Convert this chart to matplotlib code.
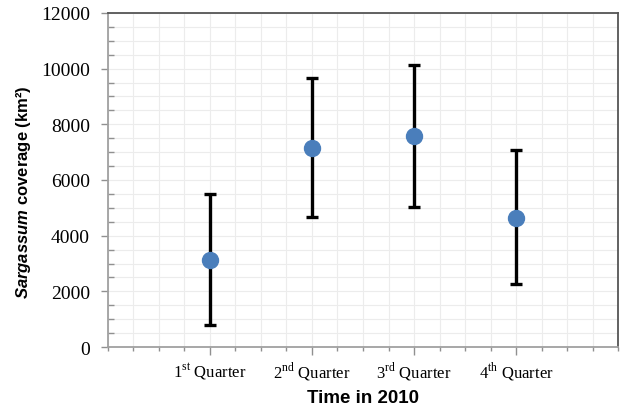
import numpy as np
import matplotlib
matplotlib.use("Agg")
import matplotlib.pyplot as plt
from matplotlib.ticker import MultipleLocator

plt.rcParams['mathtext.fontset'] = 'custom'
plt.rcParams['mathtext.rm'] = 'Liberation Serif'
plt.rcParams['mathtext.bfit'] = 'Liberation Sans:italic:bold'
plt.rcParams['mathtext.bf'] = 'Liberation Sans:bold'

# data
quarters = [r"1$^{\mathrm{st}}$ Quarter", r"2$^{\mathrm{nd}}$ Quarter",
            r"3$^{\mathrm{rd}}$ Quarter", r"4$^{\mathrm{th}}$ Quarter"]
coverage = [3120, 7160, 7570, 4620]
cov_low = [800, 4660, 5040, 2260]
cov_high = [5510, 9670, 10130, 7080]

x = np.arange(1, len(quarters) + 1)
mean = np.array(coverage)
yerr = [mean - np.array(cov_low), np.array(cov_high) - mean]

fig = plt.figure(figsize=(6.22, 4.10), dpi=100)
ax = fig.add_axes([0.1736, 0.1512, 0.82, 0.8147])

ax.errorbar(x, mean, yerr=yerr, fmt='o', color='#4a7ebb', markersize=11.5,
            ecolor='black', elinewidth=2.4, capsize=4.5, capthick=2.4, zorder=3)

ax.set_xlim(0, 5)
ax.set_ylim(0, 12000)
ax.set_xticks(x)
ax.set_xticklabels(quarters, family='Liberation Serif', fontsize=12)
ax.xaxis.set_minor_locator(MultipleLocator(0.25))
ax.yaxis.set_major_locator(MultipleLocator(2000))
ax.yaxis.set_minor_locator(MultipleLocator(500))
for lab in ax.get_yticklabels():
    lab.set_family('Liberation Serif')
    lab.set_fontsize(14)

ax.grid(which='both', color='#ececec', linewidth=0.8, zorder=0)
ax.set_axisbelow(True)

ax.tick_params(axis='y', which='major', direction='out', length=5, width=1, color='#909090', pad=8)
ax.tick_params(axis='y', which='minor', direction='in', length=4, width=1, color='#909090')
ax.tick_params(axis='x', which='major', direction='out', length=6, width=1, color='#909090', pad=3)
ax.tick_params(axis='x', which='minor', direction='out', length=3, width=1, color='#909090')

for s in ['left', 'bottom']:
    ax.spines[s].set_color('#a0a0a0')
    ax.spines[s].set_linewidth(1.3)
for s in ['top', 'right']:
    ax.spines[s].set_color('#555555')
    ax.spines[s].set_linewidth(1.3)

ax.set_xlabel('Time in 2010', family='Liberation Sans', fontweight='bold', fontsize=13.5, labelpad=5)
ax.set_ylabel(r'$\mathbfit{Sargassum}$ coverage (km²)', family='Liberation Sans',
              fontweight='bold', fontsize=12)
ax.yaxis.set_label_coords(-0.147, 0.467)

fig.savefig('out.png', dpi=100)
